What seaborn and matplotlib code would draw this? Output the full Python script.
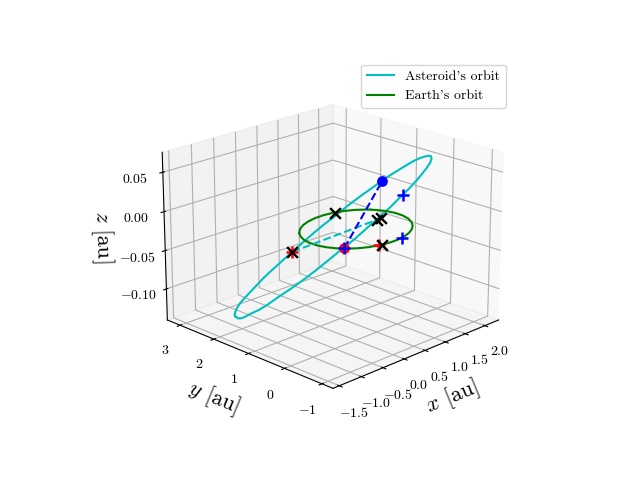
import numpy as np
import matplotlib
matplotlib.use('Agg')
import matplotlib.pyplot as plt
import seaborn as sns

# values
earth_x = [-0.765, -0.871, -0.943, -0.978, -0.975, -0.935, -0.860, -0.753, -0.616, -0.456, -0.277, -0.086,
           0.110, 0.304, 0.489, 0.657, 0.803, 0.919, 1.002, 1.046, 1.051, 1.014, 0.938, 0.825, 0.681, 0.510, 0.321,
           0.120, -0.083, -0.280, -0.464, -0.627, -0.765]
earth_y = [0.643, 0.478, 0.298, 0.109, -0.082, -0.267, -0.441, -0.597, -0.729, -0.834, -0.906, -0.944,
           -0.946, -0.910, -0.839, -0.733, -0.597, -0.435, -0.254, -0.060, 0.139, 0.334, 0.518, 0.684, 0.823, 0.930,
           1.002, 1.035, 1.028, 0.982, 0.900, 0.785, 0.643]
earth_z = [0.0] * 33

ast_x = [-0.877, -0.897, -0.905, -0.897, -0.868, -0.815, -0.734, -0.637, -0.526, -0.403, -0.270, -0.131, 0.014,
         0.161, 0.308, 0.454, 0.597, 0.734, 0.864, 0.985, 1.097, 1.196, 1.283, 1.354, 1.410, 1.449, 1.468, 1.468,
         1.448, 1.407, 1.345, 1.262, 1.161, 1.042, 0.907, 0.760, 0.602, 0.437, 0.268, 0.099, -0.066, -0.225, -0.375,
         -0.511, -0.633, -0.726, -0.796, -0.845, -0.877]
ast_y = [2.335, 2.246, 2.146, 2.032, 1.899, 1.747, 1.572, 1.387, 1.194, 0.998, 0.801, 0.607, 0.418,
         0.238, 0.071, -0.081, -0.214, -0.327, -0.417, -0.482, -0.521, -0.532, -0.516, -0.472, -0.401, -0.306,
         -0.186, -0.046, 0.113, 0.287, 0.473, 0.668, 0.868, 1.068, 1.267, 1.460, 1.644, 1.817, 1.975, 2.116, 2.238,
         2.339, 2.418, 2.474, 2.505, 2.502, 2.468, 2.411, 2.335]
ast_z = [-0.134, -0.134, -0.132, -0.128, -0.122, -0.116, -0.107, -0.096, -0.085, -0.073, -0.060, -0.046, -0.032,
         -0.019, -0.005, 0.008, 0.020, 0.032, 0.042, 0.051, 0.059, 0.065, 0.069, 0.072, 0.073, 0.072, 0.069, 0.065,
         0.059, 0.051, 0.042, 0.032, 0.020, 0.008, -0.005, -0.019, -0.032, -0.046, -0.060, -0.073, -0.085, -0.096,
         -0.107, -0.116, -0.123, -0.129, -0.133, -0.135, -0.134]

# dots and the blue dashed link
dot_x = [-0.750, 1.227]
dot_y = [-0.551, 0.697]
dot_z = [0.0, 0.029]
# cyan dashed link
node_x = [0.198, 0.420]
node_y = [2.007, -0.076]
node_z = [-0.064, 0.006]
# markers
red_plus_x = [0.198, -0.261]
red_plus_y = [2.007, -0.894]
red_plus_z = [-0.064, 0.0]
blue_plus_x = [-0.750, 0.774, 0.237]
blue_plus_y = [-0.551, -0.365, -0.936]
blue_plus_z = [0.0, 0.035, 0.0]
cross_x = [0.347, 0.198, 0.452, 0.420, -0.233]
cross_y = [0.979, 2.007, -0.137, -0.076, -0.927]
cross_z = [0.0, -0.064, 0.009, 0.006, 0.0]

x_ticks = [-1.5, -1.0, -0.5, 0.0, 0.5, 1.0, 1.5, 2.0]
y_ticks = [-1, 0, 1, 2, 3]
z_ticks = [-0.10, -0.05, 0.0, 0.05]

sns.set_context("notebook", rc={"font.size": 10, "axes.labelsize": 16, "xtick.labelsize": 10, "ytick.labelsize": 10,
                                "legend.fontsize": 10, "lines.linewidth": 1.5, "axes.linewidth": 0.8,
                                "grid.linewidth": 0.8, "xtick.major.width": 0.8, "ytick.major.width": 0.8,
                                "xtick.major.size": 3.5, "ytick.major.size": 3.5})
plt.rcParams['font.family'] = ['cmr10', 'DejaVu Serif']
plt.rcParams['mathtext.fontset'] = 'cm'
plt.rcParams['axes.formatter.use_mathtext'] = True

cyan, green = sns.color_palette(['c', 'g'])

fig = plt.figure()
ax = fig.add_subplot(projection='3d')
ax.computed_zorder = False
ax.view_init(20, -135)

ax.plot(ast_x, ast_y, ast_z, color=cyan, label="Asteroid's orbit", zorder=2)
ax.plot(earth_x, earth_y, earth_z, color=green, label="Earth's orbit", zorder=2)
ax.plot(node_x, node_y, node_z, '--', color=cyan, zorder=2)
ax.plot(dot_x, dot_y, dot_z, '--', color='b', zorder=3)

ax.scatter(dot_x[0], dot_y[0], dot_z[0], color='r', s=45, depthshade=False, zorder=4)
ax.scatter(dot_x[1], dot_y[1], dot_z[1], color='b', s=45, depthshade=False, zorder=4)
ax.scatter(red_plus_x, red_plus_y, red_plus_z, marker='+', color='r', s=70, linewidths=1.8, depthshade=False, zorder=5)
ax.scatter(blue_plus_x, blue_plus_y, blue_plus_z, marker='+', color='b', s=70, linewidths=1.8, depthshade=False, zorder=5)
ax.scatter(cross_x, cross_y, cross_z, marker='x', color='k', s=60, linewidths=1.7, depthshade=False, zorder=6)

ax.set_xlim(-1.64, 2.36)
ax.set_ylim(-1.29, 3.39)
ax.set_zlim(-0.141, 0.075)
ax.set_xticks(x_ticks)
ax.set_yticks(y_ticks)
ax.set_zticks(z_ticks)
ax.set_xlabel('$x$ [au]', labelpad=5)
ax.set_ylabel('$y$ [au]', labelpad=5)
ax.set_zlabel('$z$ [au]', labelpad=5)
ax.legend(loc='upper right')

fig.savefig('out.png', dpi=100)
